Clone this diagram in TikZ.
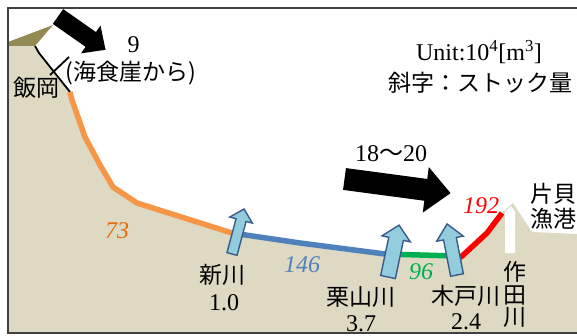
\documentclass[tikz,border=0pt]{standalone}
\usepackage{fontspec}
\setmainfont{Liberation Serif}
\newfontfamily\jpfont{Noto Sans CJK JP}

\definecolor{land}{HTML}{DDD9C3}
\definecolor{cliffface}{HTML}{948A54}
\definecolor{stockorange}{HTML}{F79646}
\definecolor{labelorange}{HTML}{E46C0A}
\definecolor{stockblue}{HTML}{4F81BD}
\definecolor{stockgreen}{HTML}{00B050}
\definecolor{stockred}{HTML}{FF0000}
\definecolor{riverfill}{HTML}{93CDDD}
\definecolor{riveredge}{HTML}{385D8A}
\definecolor{framegray}{HTML}{404040}

% block arrow: #1 style, #2/#3 tail centre, #4 direction (deg),
% #5 length, #6 half shaft width, #7 half head width, #8 head length
\newcommand\blockarrow[8]{%
  \begin{scope}[shift={(#2,#3)},rotate=#4]
    \path[#1] (0,-#6) -- ({#5-#8},-#6) -- ({#5-#8},-#7) -- (#5,0)
      -- ({#5-#8},#7) -- ({#5-#8},#6) -- (0,#6) -- cycle;
  \end{scope}}

\begin{document}
\begin{tikzpicture}[x=1pt,y=-1pt,
  coast/.style={line width=5.5pt,line join=round},
  drift/.style={fill=black},
  inflow/.style={fill=riverfill,draw=riveredge,line width=1.4pt,line join=miter},
  jp/.style={font=\jpfont\fontsize{23}{25}\selectfont,inner sep=0pt},
  num/.style={font=\fontsize{24}{26}\selectfont,inner sep=0pt},
  stocknum/.style={font=\fontsize{24}{26}\selectfont\itshape,inner sep=0pt}]

\useasboundingbox (0,0) rectangle (577,336);
\clip (0,0) rectangle (577,336);

% shoreline profile
\coordinate (c0) at (35,46);
\coordinate (c1) at (39,53);
\coordinate (c2) at (70,92);
\coordinate (o1) at (72,100);
\coordinate (o2) at (85,137);
\coordinate (o3) at (100,165);
\coordinate (o4) at (113,187);
\coordinate (o5) at (137,203);
\coordinate (b0) at (232,233);
\coordinate (b1) at (300,243);
\coordinate (g0) at (385,254);
\coordinate (r0) at (455,256);
\coordinate (r1) at (461,257);
\coordinate (r2) at (487,233);
\coordinate (r3) at (502,213);
\coordinate (pk) at (513,203);
\coordinate (s1) at (532,232);
\coordinate (s2) at (577,234);

% land
\fill[land] (8,46) -- (c0) -- (c1) -- (c2) -- (o1) -- (o2) -- (o3) -- (o4)
  -- (o5) -- (b0) -- (b1) -- (g0) -- (r0) -- (r1) -- (r2) -- (r3) -- (pk)
  -- (s1) -- (s2) -- (577,333) -- (8,333) -- cycle;

% cliff top
\fill[cliffface] (8,42) -- (53,25) -- (c0) -- (8,46) -- cycle;

% mouth of the Sakuta river
\fill[white] (505,253) -- (505,212) -- (511,206) -- (515,212) -- (515,253) -- cycle;

% cliff face and leader
\draw[line width=1.8pt] (c0) -- (c1) -- (c2);
\coordinate (lead0) at (50,75);
\coordinate (lead1) at (69,57);
\draw[line width=1.8pt] (lead0) -- (lead1);

% stock sections along the shore
\draw[coast,stockorange] (c2) -- (o1) -- (o2) -- (o3) -- (o4) -- (o5) -- (b0);
\draw[coast,stockblue] (b0) -- (b1) -- (g0);
\draw[coast,stockgreen] (g0) -- (r0);
\draw[coast,stockred] (r0) -- (r1) -- (r2) -- (r3);

% littoral drift
\blockarrow{drift}{58}{16.5}{-35}{58}{9}{17}{18}
\blockarrow{drift}{344.5}{179}{-7.6}{107}{11}{23}{25}

% river supply
\blockarrow{inflow}{232}{254}{75}{46.6}{5.2}{11.7}{11.5}
\blockarrow{inflow}{388}{277}{78}{53}{7.5}{14.5}{14}
\blockarrow{inflow}{457}{275}{101}{52}{6.5}{13.5}{15}

% frame
\draw[framegray,line width=2.5pt] (8,8) rectangle (600,333);

% labels
\node[jp] (iioka) at (36,88) {飯岡};
\node[num] (nine) at (133.5,45) {9};
\node[jp] (cliffsrc) at (131,73) {(海食崖から)};
\node[num,anchor=base] (unit) at (479,61) {Unit:10\textsuperscript{4}[m\textsuperscript{3}]};
\node[jp,anchor=west] (legend) at (388,83) {斜字：ストック量};
\node[num] (driftval) at (391,153.5) {18{\jpfont 〜}20};

\node[stocknum,labelorange] (s73) at (117,231) {73};
\node[stocknum,stockblue] (s146) at (302,265) {146};
\node[stocknum,stockgreen] (s96) at (421,272) {96};
\node[stocknum,stockred] (s192) at (481,206) {192};

\node[jp] (shinkawa) at (222.5,275) {新川};
\node[num] (q1) at (224,302.5) {1.0};
\node[jp] (kuriyama) at (361,297) {栗山川};
\node[num] (q2) at (361,324) {3.7};
\node[jp] (kido) at (466,296) {木戸川};
\node[num] (q3) at (466,322) {2.4};
\node[jp,align=center,font=\jpfont\fontsize{23}{22.5}\selectfont] (sakuta) at (515,294.5) {作\\田\\川};
\node[jp,align=center] (katakai) at (553,206.5) {片貝\\漁港};

\end{tikzpicture}
\end{document}
